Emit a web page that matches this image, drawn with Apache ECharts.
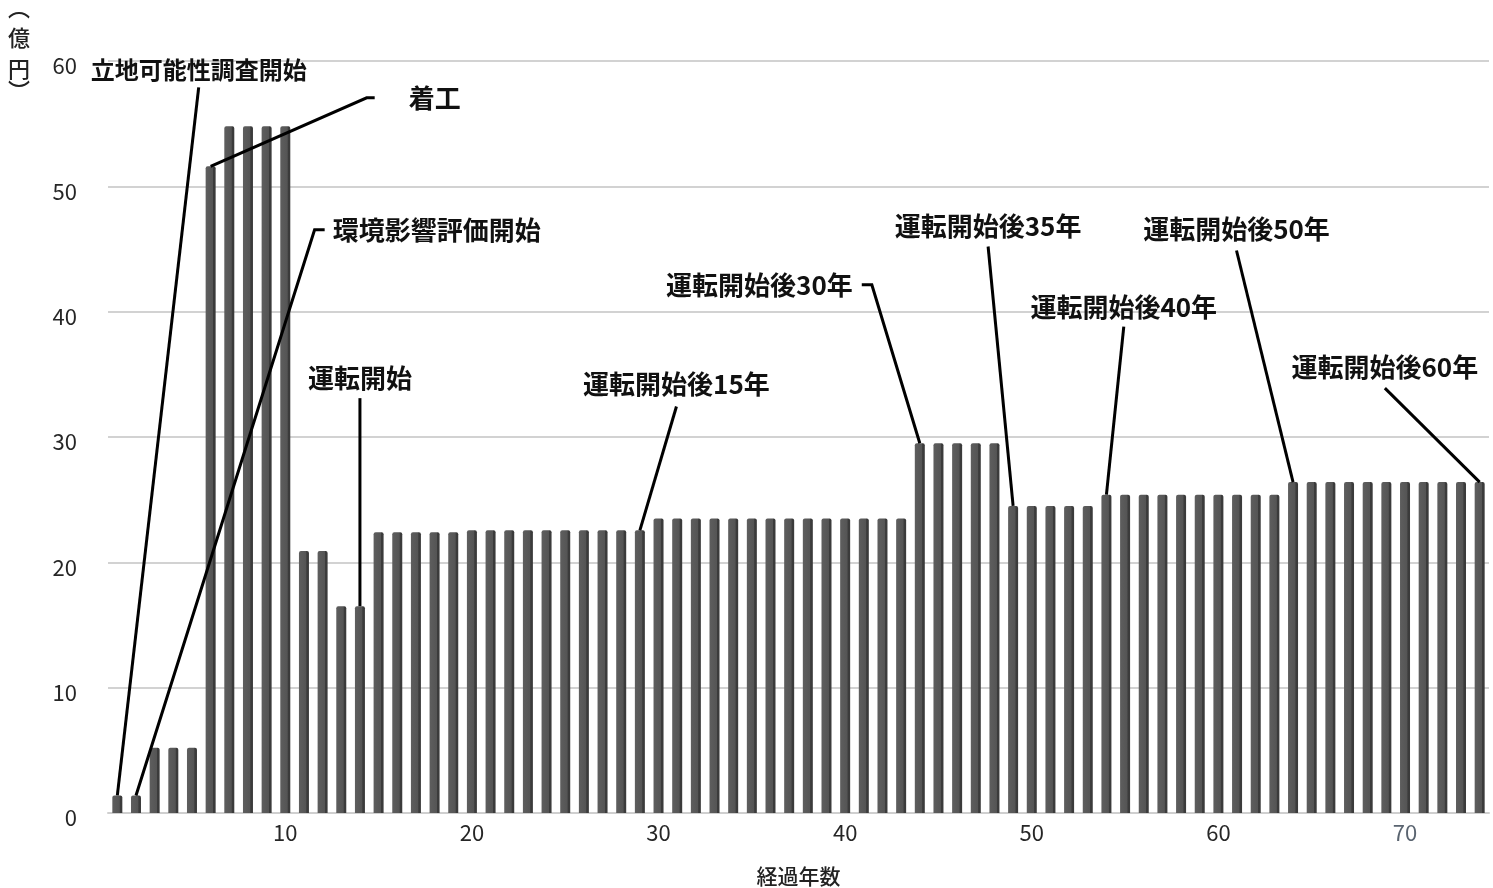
<!DOCTYPE html>
<html>
<head>
<meta charset="utf-8">
<script src="https://cdn.jsdelivr.net/npm/echarts@6/dist/echarts.min.js"></script>
<style>
html,body{margin:0;padding:0;background:#fff;}
#chart{width:1493px;height:888px;}
</style>
</head>
<body>
<div id="chart"></div>
<script>
// ---- data ----
const years = ['1','2','3','4','5','6','7','8','9','10','11','12','13','14','15','16','17','18','19','20',
  '21','22','23','24','25','26','27','28','29','30','31','32','33','34','35','36','37','38','39','40',
  '41','42','43','44','45','46','47','48','49','50','51','52','53','54','55','56','57','58','59','60',
  '61','62','63','64','65','66','67','68','69','70','71','72','73','74'];
const costs = [1.4, 1.4, 5.2, 5.2, 5.2, 51.6, 54.8, 54.8, 54.8, 54.8,
  20.9, 20.9, 16.5, 16.5, 22.4, 22.4, 22.4, 22.4, 22.4, 22.55,
  22.55, 22.55, 22.55, 22.55, 22.55, 22.55, 22.55, 22.55, 22.55, 23.5,
  23.5, 23.5, 23.5, 23.5, 23.5, 23.5, 23.5, 23.5, 23.5, 23.5,
  23.5, 23.5, 23.5, 29.5, 29.5, 29.5, 29.5, 29.5, 24.5, 24.5,
  24.5, 24.5, 24.5, 25.4, 25.4, 25.4, 25.4, 25.4, 25.4, 25.4,
  25.4, 25.4, 25.4, 26.4, 26.4, 26.4, 26.4, 26.4, 26.4, 26.4,
  26.4, 26.4, 26.4, 26.4];
const yTicks = [0, 10, 20, 30, 40, 50, 60];
const annoTexts = ['立地可能性調査開始', '着工', '環境影響評価開始', '運転開始', '運転開始後15年',
  '運転開始後30年', '運転開始後35年', '運転開始後40年', '運転開始後50年', '運転開始後60年'];
const annoYears = [1, 6, 2, 14, 29, 44, 49, 54, 64, 74];
const yAxisTitleChars = ['︵', '億', '円', '︶'];
const xAxisTitle = '経過年数';

// ---- layout of annotation leader lines (in data coordinates: [year, 億円]) ----
const annoLayout = [
  { pts: [[5.36, 57.9]], pos: 'top', gap: 5, size: 24 },
  { pts: [[14.79, 57.06], [14.36, 57.06]], pos: 'right', gap: 34, size: 26 },
  { pts: [[12.11, 46.53], [11.57, 46.53]], pos: 'right', gap: 8, size: 26 },
  { pts: [[14, 33.1]], pos: 'top', gap: 7, size: 26 },
  { pts: [[30.96, 32.43]], pos: 'top', gap: 9, size: 26 },
  { pts: [[40.89, 42.14], [41.43, 42.14]], pos: 'left', gap: 9, size: 26 },
  { pts: [[47.66, 45.2]], pos: 'top', gap: 7, size: 26 },
  { pts: [[54.93, 38.8]], pos: 'top', gap: 7, size: 26 },
  { pts: [[60.97, 44.88]], pos: 'top', gap: 8, size: 26 },
  { pts: [[68.92, 33.9]], pos: 'top', gap: 8, size: 26 }
];
// vertical positions (px) of the y-axis title characters
const yTitleTops = [-3, 27, 58, 80];

const FONT = '"Noto Sans CJK JP", "Noto Sans", sans-serif';
const annoData = annoYears.map((y) => [y, costs[y - 1]]);

const chart = echarts.init(document.getElementById('chart'), null, { renderer: 'canvas' });

chart.setOption({
  backgroundColor: '#ffffff',
  animation: false,
  textStyle: { fontFamily: FONT },
  grid: { left: 108, right: 4, top: 61, bottom: 75, containLabel: false, outerBoundsMode: 'none' },
  xAxis: [
    {
      type: 'category',
      data: years,
      boundaryGap: true,
      name: xAxisTitle,
      nameLocation: 'middle',
      nameGap: 53,
      nameTextStyle: { fontSize: 21, color: '#222', fontFamily: FONT, fontWeight: 500 },
      axisLine: { show: true, lineStyle: { color: '#cfcfcf', width: 2 } },
      axisTick: { show: false },
      axisLabel: {
        interval: function (index) { return (index + 1) % 10 === 0; },
        fontSize: 22,
        color: '#262626',
        margin: 9,
        fontFamily: FONT,
        formatter: function (v) { return v === '70' ? '{g|' + v + '}' : v; },
        rich: { g: { color: '#5a6470', fontSize: 22, fontFamily: FONT } }
      },
      splitLine: { show: false }
    },
    {
      type: 'value',
      min: 0.5,
      max: 74.5,
      show: false
    }
  ],
  yAxis: {
    type: 'value',
    min: yTicks[0],
    max: yTicks[yTicks.length - 1],
    interval: 10,
    axisLine: { show: false },
    axisTick: { show: false },
    axisLabel: { fontSize: 22, color: '#262626', margin: 31, fontFamily: FONT, verticalAlign: 'top', lineHeight: 10 },
    splitLine: { show: true, lineStyle: { color: '#d2d2d2', width: 2 } }
  },
  graphic: yAxisTitleChars.map((ch, k) => ({
    type: 'text',
    x: 19,
    y: yTitleTops[k],
    z: 10,
    style: {
      text: ch,
      font: '500 22px ' + FONT,
      fill: '#222',
      align: 'center',
      verticalAlign: 'top'
    }
  })),
  series: [
    {
      type: 'bar',
      xAxisIndex: 0,
      yAxisIndex: 0,
      data: costs,
      barWidth: 10,
      itemStyle: {
        borderRadius: [2, 2, 0, 0],
        color: {
          type: 'linear', x: 0, y: 0, x2: 1, y2: 0,
          colorStops: [
            { offset: 0, color: '#5e5e5e' },
            { offset: 0.7, color: '#555555' },
            { offset: 0.78, color: '#3b3b3b' },
            { offset: 1, color: '#3b3b3b' }
          ]
        }
      },
      z: 2
    },
    {
      type: 'custom',
      xAxisIndex: 1,
      yAxisIndex: 0,
      data: annoData,
      encode: { x: 0, y: 1 },
      z: 5,
      clip: false,
      renderItem: function (params, api) {
        const i = params.dataIndex;
        const lay = annoLayout[i];
        const target = api.coord([api.value(0), api.value(1)]);
        const pts = lay.pts.map((p) => api.coord(p));
        pts.push(target);
        const a = pts[0];
        let tx = a[0], ty = a[1], align = 'center', va = 'middle';
        if (lay.pos === 'top') { ty = a[1] - lay.gap; va = 'bottom'; }
        else if (lay.pos === 'right') { tx = a[0] + lay.gap; align = 'left'; }
        else if (lay.pos === 'left') { tx = a[0] - lay.gap; align = 'right'; }
        return {
          type: 'group',
          children: [
            {
              type: 'polyline',
              shape: { points: pts },
              style: { stroke: '#000', lineWidth: 3, fill: null, lineJoin: 'miter' }
            },
            {
              type: 'text',
              x: tx,
              y: ty,
              style: {
                text: annoTexts[i],
                fill: '#111',
                font: 'bold ' + lay.size + 'px ' + FONT,
                align: align,
                verticalAlign: va
              }
            }
          ]
        };
      }
    }
  ]
});
</script>
</body>
</html>
